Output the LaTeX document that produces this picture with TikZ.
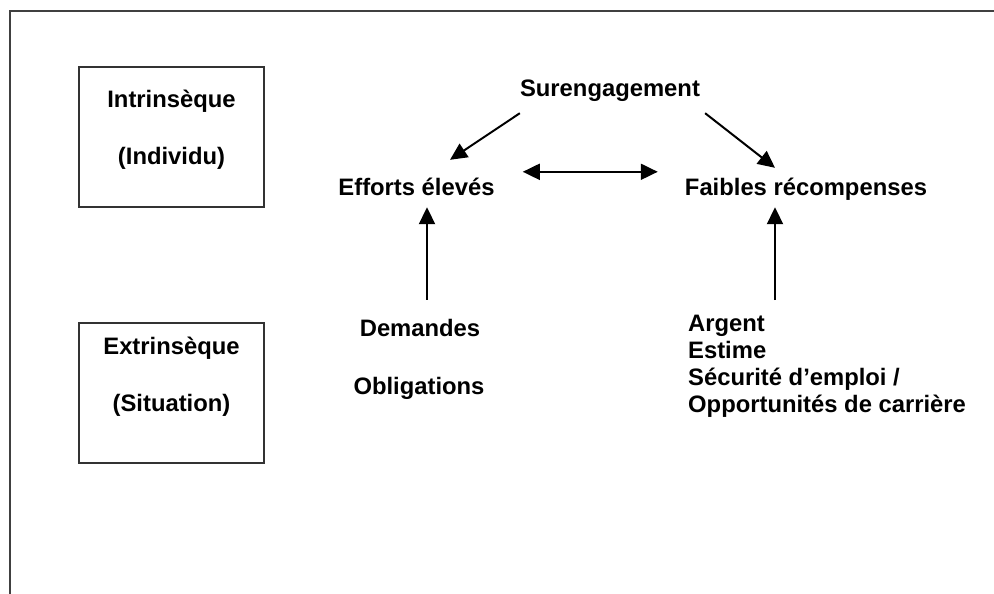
\documentclass[tikz,border=0pt]{standalone}
\usepackage{fontspec}
\setmainfont{Liberation Sans}
\usetikzlibrary{arrows.meta,calc}
\begin{document}
\begin{tikzpicture}[x=1pt,y=-1pt,
  txt/.style={font=\fontsize{23.8}{27}\selectfont\bfseries, inner sep=0pt, text height=17pt, text depth=5pt},
  listtxt/.style={font=\fontsize{23.8}{27}\selectfont\bfseries, inner sep=0pt, align=left},
  box/.style={draw=black!80, line width=1.5pt, minimum width=185pt, minimum height=140pt, inner sep=0pt},
  arr/.style={-{Triangle[length=17pt,width=16pt]}, line width=2pt},
  darr/.style={{Triangle[length=17pt,width=16pt]}-{Triangle[length=17pt,width=16pt]}, line width=2pt},
  frame/.style={draw=black!75, line width=2pt}]
\useasboundingbox (0,0) rectangle (994,594);
\draw[frame] (10,594) -- (10,11) -- (994,11);
\node[box] (ibox) at (171.5,137) {};
\node[box] (ebox) at (171.5,393) {};
\node[txt,anchor=base] (intr) at (171.5,107) {Intrinsèque};
\node[txt,anchor=base] (indiv) at (171.5,164) {(Individu)};
\node[txt,anchor=base] (extr) at (171.5,354) {Extrinsèque};
\node[txt,anchor=base] (situ) at (171.5,411) {(Situation)};
\node[txt,anchor=base] (sur) at (610,96) {Surengagement};
\node[txt,anchor=base] (eff) at (416.5,195) {Efforts élevés};
\node[txt,anchor=base] (fai) at (806,195) {Faibles récompenses};
\node[txt,anchor=base] (dem) at (420,336) {Demandes};
\node[txt,anchor=base] (obl) at (419,394) {Obligations};
\node[listtxt,anchor=north west] (rec) at (688,315) {Argent\\Estime\\Sécurité d’emploi /\\Opportunités de carrière};
\draw[arr] ([yshift=-12pt]sur.south west) -- ([xshift=33.5pt,yshift=18pt]eff.north);
\draw[arr] ([xshift=5pt,yshift=-12pt]sur.south east) -- ([xshift=-31pt,yshift=10pt]fai.north);
\draw[darr] ([xshift=28pt,yshift=6pt]eff.north east) -- ([xshift=-27pt,yshift=6pt]fai.north west);
\draw[arr] ($(eff.south |- dem.north)+(10.5pt,19pt)$) -- ($(eff.south)+(10.5pt,-7pt)$);
\draw[arr] ($(fai.south |- rec.north)+(-31pt,15pt)$) -- ($(fai.south)+(-31pt,-7pt)$);
\end{tikzpicture}
\end{document}
